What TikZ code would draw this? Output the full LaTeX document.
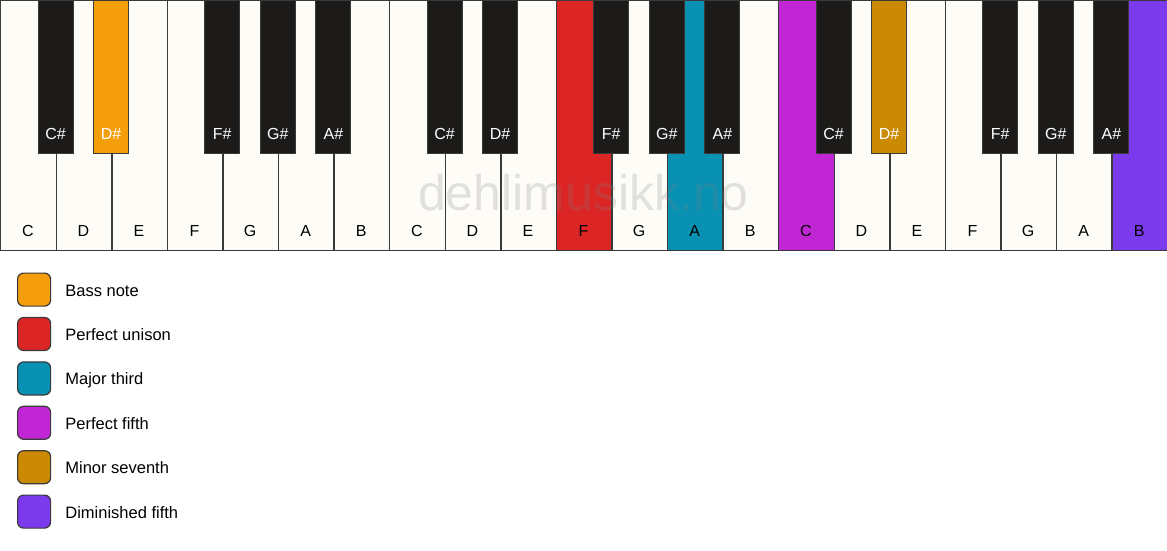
\documentclass[tikz,border=0pt]{standalone}
\usepackage{fontspec}
\setmainfont{Liberation Sans}
\usepackage{tikz}
\usetikzlibrary{positioning}
\definecolor{keywhite}{HTML}{FDFCF7}
\definecolor{keyblack}{HTML}{1C1B19}
\definecolor{keyedge}{HTML}{3A3A3A}
\definecolor{bassamber}{HTML}{F59E0B}
\definecolor{unisonred}{HTML}{DC2626}
\definecolor{thirdcyan}{HTML}{0891B2}
\definecolor{fifthpink}{HTML}{C026D3}
\definecolor{seventhgold}{HTML}{CA8A04}
\definecolor{dimviolet}{HTML}{7C3AED}

\begin{document}
\begin{tikzpicture}[x=1pt, y=-1pt,
    whitekey/.style={rectangle, draw=keyedge, line width=1.4pt, fill=keywhite, anchor=north west, minimum width=55.571pt, minimum height=250pt, inner sep=0pt},
    blackkey/.style={rectangle, draw=keyedge, line width=1pt, fill=keyblack, anchor=north, minimum width=35pt, minimum height=153pt, inner sep=0pt},
    whitelabel/.style={anchor=base, inner sep=0pt, font=\fontsize{16}{19}\selectfont, color=black},
    blacklabel/.style={anchor=base, inner sep=0pt, font=\fontsize{16}{19}\selectfont, color=white},
    legendbox/.style={rectangle, rounded corners=6pt, draw=keyedge, line width=1.2pt, anchor=north west, minimum width=33pt, minimum height=33pt, inner sep=0pt},
    legendtext/.style={inner sep=0pt, text height=15pt, text depth=2pt, font=\fontsize{16.5}{19}\selectfont},
    % chord tones
    b1/.style={fill=bassamber},
    w10/.style={fill=unisonred},
    w12/.style={fill=thirdcyan},
    w14/.style={fill=fifthpink},
    b15/.style={fill=seventhgold},
    w20/.style={fill=dimviolet}
]
\def\keyw{55.571}
\useasboundingbox (0,0) rectangle (1167,550);

% Keyboard, three octaves
\foreach \o in {0,1,2}{
  \foreach \n [count=\k from 0] in {C,D,E,F,G,A,B}{
    \pgfmathtruncatemacro\i{7*\o+\k}
    \node[whitekey, w\i/.try] (w\i) at ({\i*\keyw}, 0) {};
    \node[whitelabel] (lw\i) at ({(\i+0.5)*\keyw}, 236) {\n};
  }
  \foreach \n/\k in {C/0,D/1,F/3,G/4,A/5}{
    \pgfmathtruncatemacro\i{7*\o+\k}
    \node[blackkey, b\i/.try] (b\i) at ({(\i+1)*\keyw}, 0) {};
    \node[blacklabel] (lb\i) at ({(\i+1)*\keyw}, 139) {\n\#};
  }
}

% Watermark
\node[anchor=base, inner sep=0pt, font=\fontsize{50}{56}\selectfont, color=black!50, opacity=0.22] (mark) at (583.5, 210) {dehlimusikk.no};

% Legend
\foreach \c/\t [count=\j from 0] in {bassamber/Bass note, unisonred/Perfect unison, thirdcyan/Major third, fifthpink/Perfect fifth, seventhgold/Minor seventh, dimviolet/Diminished fifth}{
  \node[legendbox, fill=\c] (lg\j) at (17, {272.5+44.4*\j}) {};
  \node[legendtext, right=14pt of lg\j] (lt\j) {\t};
}

\end{tikzpicture}
\end{document}
